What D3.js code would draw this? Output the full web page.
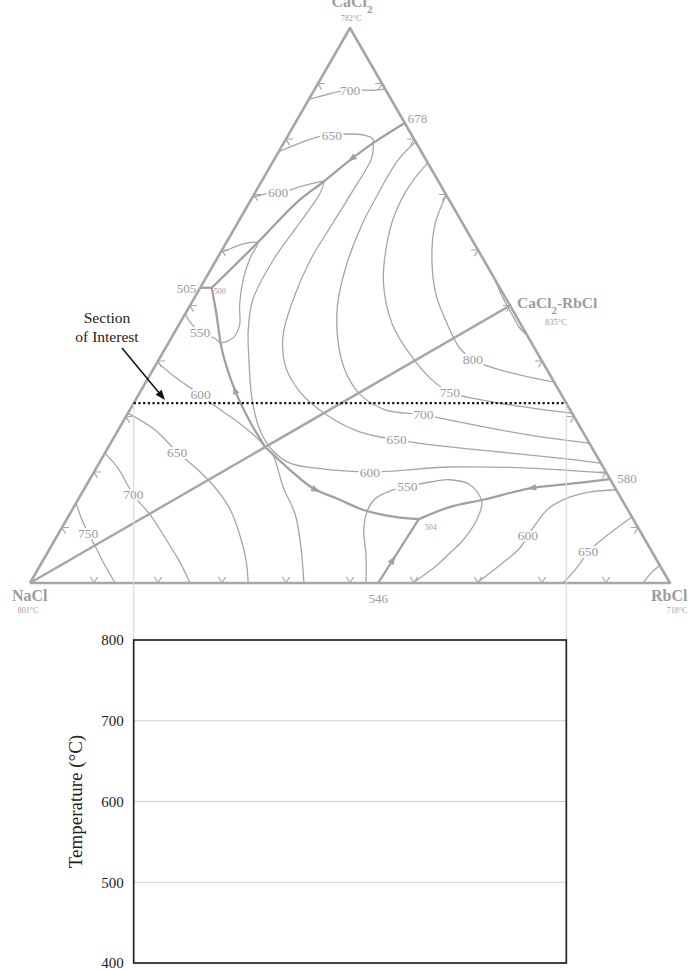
<!DOCTYPE html>
<html><head><meta charset="utf-8">
<script src="https://cdnjs.cloudflare.com/ajax/libs/d3/7.8.5/d3.min.js"></script>
<style>
html,body{margin:0;padding:0;background:#fff;}
svg{display:block;}
text{font-family:"Liberation Serif","Times New Roman",serif;}
</style></head><body>
<svg id="chart" width="688" height="970"></svg>
<script>
// All compositions are [mol% RbCl, mol% CaCl2]; NaCl makes up the rest.

// Pure components and the congruent compound
const vertexNames = ["NaCl", "RbCl", "CaCl2"];
const vertexTemps = ["801°C", "718°C", "782°C"];
const vertexComps = [[0, 0], [100, 0], [0, 100]];
const compoundComp = [50, 50];
const compoundTemp = "835°C";

// Invariant points (°C)
const invariantLabels = ["678", "505", "500", "504", "580", "546"];
const invariantComps = [[17.1, 82.9], [0, 53.2], [1.8, 53.2], [55.0, 11.5], [81.3, 18.7], [54.4, 0]];

// Join line NaCl – CaCl2·RbCl
const joinLine = [[0, 0], [50, 50]];

// Univariant (field boundary) curves, written in the direction of falling temperature
const b678to500 = [[17.1, 82.9], [14.0, 79.3], [11.9, 76.2], [9.7, 72.3], [7.4, 68.6], [4.9, 61.3], [1.8, 53.2]];
const b505to500 = [[0, 53.2], [1.8, 53.2]];
const bSaddleTo500 = [[24.5, 24.5], [19.9, 29.0], [14.6, 34.8], [9.0, 42.0], [5.0, 48.3], [1.8, 53.2]];
const bSaddleTo504 = [[24.5, 24.5], [30.4, 20.4], [35.6, 17.1], [40.9, 15.0], [45.4, 13.2], [51.1, 11.9], [55.0, 11.5]];
const b580to504 = [[81.3, 18.7], [75.0, 17.8], [69.8, 17.1], [63.3, 15.0], [58.8, 13.7], [55.0, 11.5]];
const b546to504 = [[54.4, 0], [55.0, 11.5]];
// position of the direction arrow along each boundary (fraction of its length)
const boundaryArrowAt = [0.25, null, 0.38, 0.38, 0.40, 0.36];

// Liquidus isotherms
const iso700CaCl2 = [[0, 87.2], [2.1, 87.9], [4.1, 88.6], [7.2, 88.8], [9.5, 88.8], [11.0, 89.0]];
const iso650 = [[0, 77.7], [2.6, 79.3], [4.8, 80.4], [6.8, 80.7], [9.5, 80.9], [11.9, 80.7], [13.6, 80.0], [14.0, 79.3],
  [15.1, 76.6], [15.1, 70.8], [14.9, 64.9], [14.7, 58.2], [15.6, 51.0], [17.2, 44.7], [20.2, 39.3], [25.0, 34.4],
  [31.9, 29.9], [38.0, 27.2], [44.4, 25.8], [51.8, 24.7], [61.6, 23.6], [71.5, 22.5], [78.4, 21.6]];
const iso600 = [[0, 69.5], [2.4, 70.3], [4.5, 70.6], [6.5, 71.4], [8.5, 72.1], [9.7, 72.3], [10.2, 70.3], [9.6, 64.1],
  [8.9, 58.2], [9.3, 51.0], [11.3, 45.6], [14.6, 39.3], [17.9, 33.5], [22.1, 27.6], [25.8, 24.0], [29.8, 21.6],
  [34.4, 20.7], [43.1, 20.0], [55.1, 20.9], [67.7, 20.7], [80.2, 19.8]];
const iso550Upper = [[0, 59.5], [1.4, 60.4], [2.8, 61.1], [4.9, 61.3], [5.1, 58.6], [6.0, 54.6], [7.7, 50.1], [9.5, 46.5],
  [9.7, 44.3], [8.2, 43.3], [6.8, 44.1], [4.0, 45.2], [1.5, 47.0], [0, 48.5]];
const iso550Lower = [[52.5, 0], [50.0, 5.0], [47.4, 9.5], [46.2, 13.0], [46.3, 15.1], [48.0, 16.6], [50.3, 17.3],
  [53.4, 18.2], [56.3, 18.6], [59.9, 17.7], [63.3, 14.6], [64.1, 11.4], [63.8, 7.7], [62.9, 5.4], [62.0, 3.2], [59.8, 0]];
const iso600NaCl = [[0, 39.8], [4.1, 37.1], [9.7, 33.9], [12.6, 32.1], [17.3, 29.4], [20.8, 27.2], [23.4, 25.4],
  [24.5, 24.5], [26.4, 23.1], [30.9, 17.3], [35.3, 12.3], [38.9, 6.8], [42.8, 0]];
const iso650NaCl = [[0, 30.6], [5.7, 27.6], [11.2, 23.6], [16.6, 20.0], [20.8, 16.8], [24.7, 13.2], [28.5, 8.6], [31.7, 4.1], [34.1, 0]];
const iso700NaCl = [[0, 23.4], [3.4, 20.7], [8.2, 15.9], [12.6, 12.3], [17.5, 7.7], [21.5, 3.8], [25.0, 0]];
const iso750NaCl = [[0, 14.4], [2.4, 11.4], [4.6, 9.0], [7.0, 6.5], [10.1, 3.2], [13.3, 0]];
const iso700 = [[20.5, 79.5], [19.4, 76.2], [19.3, 70.8], [19.6, 64.5], [20.8, 57.3], [23.0, 50.1], [26.2, 43.8],
  [30.0, 38.4], [34.7, 33.9], [39.9, 31.2], [46.3, 30.3], [52.7, 29.0], [59.6, 27.6], [68.2, 26.1], [74.8, 25.2]];
const iso750 = [[24.3, 75.7], [23.5, 71.7], [23.8, 66.3], [25.6, 60.0], [28.4, 53.7], [33.4, 46.5], [38.9, 41.1],
  [44.5, 36.6], [48.4, 34.4], [52.9, 33.2], [59.0, 32.1], [64.9, 31.2], [69.4, 30.6]];
const iso800 = [[30.1, 69.9], [31.0, 64.5], [33.7, 58.2], [37.5, 51.9], [42.0, 46.5], [46.0, 42.3], [49.1, 40.2],
  [54.2, 38.4], [59.5, 37.1], [63.8, 36.2]];
const isoNearCompound = [[40, 60], [44.5, 55.5], [48.1, 51.5], [51.2, 48.3], [53.6, 45.9], [55.3, 44.7]];
const iso600RbCl = [[83.2, 16.8], [79.3, 16.4], [76.0, 15.1], [74.2, 13.2], [73.7, 10.5], [73.5, 8.6], [73.4, 6.3], [71.8, 3.2], [69.8, 0]];
const iso650RbCl = [[88.1, 11.9], [85.9, 8.6], [84.4, 5.6], [84.1, 2.9], [83.3, 0]];
const iso700RbCl = [[96.8, 3.2], [96.1, 1.6], [95.8, 0]];

// Isotherm labels and where they sit on their curves
const isoLabelText = ["700", "650", "600", "550", "600", "650", "700", "750", "800", "750", "700", "650", "600", "550", "600", "650"];
const isoLabelComps = [[5.6, 88.8], [6.8, 80.7], [3.6, 70.3], [4.0, 45.2], [9.7, 33.9], [11.2, 23.6], [8.2, 15.9], [4.6, 9.0],
  [49.1, 40.2], [48.4, 34.4], [46.3, 30.3], [44.4, 25.8], [43.1, 20.0], [50.3, 17.3], [73.5, 8.6], [84.4, 5.6]];

// Edge grid ticks every 10 mol%
const gridSteps = [10, 20, 30, 40, 50, 60, 70, 80, 90];

// Isopleth section at constant CaCl2
const sectionCaCl2 = 32.4;

// Temperature axis of the section plot
const tempDomain = [400, 800];
const tempTicks = [400, 500, 600, 700, 800];

// ---------------------------------------------------------------
const svg = d3.select("#chart");
const X = d3.scaleLinear().domain([0, 100]).range([30, 670]);
const Y = d3.scaleLinear().domain([0, 100]).range([583, 28]);
const P = d => [X(d[0] + d[1] / 2), Y(d[1])];

const GREY = "#a6a6a6";
const LABEL = "#9c9c9c";

const smooth = d3.line().x(d => P(d)[0]).y(d => P(d)[1]).curve(d3.curveCatmullRom.alpha(0.5));
const straight = d3.line().x(d => P(d)[0]).y(d => P(d)[1]);

// isotherms
const isotherms = [iso700CaCl2, iso650, iso600, iso550Upper, iso550Lower, iso600NaCl, iso650NaCl, iso700NaCl,
  iso750NaCl, iso700, iso750, iso800, isoNearCompound, iso600RbCl, iso650RbCl, iso700RbCl];
svg.append("g").selectAll("path").data(isotherms).join("path")
  .attr("d", smooth).attr("fill", "none").attr("stroke", GREY).attr("stroke-width", 1.3);

// edge ticks (small chevrons along the grid directions)
const tg = svg.append("g").attr("stroke", GREY).attr("stroke-width", 1.1).attr("fill", "none");
const d = 1.1;
gridSteps.forEach(k => {
  const bottom = [[k - d, d], [k, 0], [k, d]];
  const left = [[d, k], [0, k], [d, k - d]];
  const right = [[k - d, 100 - k], [k, 100 - k], [k, 100 - k - d]];
  [bottom, left, right].forEach(t => tg.append("path").attr("d", straight(t)));
});

// field boundaries
const boundaries = [b678to500, b505to500, bSaddleTo500, bSaddleTo504, b580to504, b546to504];
const bg = svg.append("g");
boundaries.forEach((b, i) => {
  const path = bg.append("path").attr("d", b.length > 2 ? smooth(b) : straight(b))
    .attr("fill", "none").attr("stroke", "#a0a0a0").attr("stroke-width", 2.3).attr("stroke-linejoin", "round");
  const f = boundaryArrowAt[i];
  if (f != null) {
    const node = path.node(), L = node.getTotalLength();
    const p0 = node.getPointAtLength(L * f), p1 = node.getPointAtLength(L * f + 2);
    const ang = Math.atan2(p1.y - p0.y, p1.x - p0.x) * 180 / Math.PI;
    bg.append("path").attr("d", "M5,0L-4,-3.3L-4,3.3Z").attr("fill", "#a0a0a0")
      .attr("transform", `translate(${p0.x},${p0.y}) rotate(${ang})`);
  }
});

// triangle and join line
svg.append("path").attr("d", straight([...vertexComps, vertexComps[0]]))
  .attr("fill", "none").attr("stroke", GREY).attr("stroke-width", 2.6).attr("stroke-linejoin", "round");
svg.append("path").attr("d", straight(joinLine)).attr("fill", "none").attr("stroke", GREY).attr("stroke-width", 2.4);

// isotherm labels with a white halo that breaks the curve
svg.append("g").selectAll("text").data(isoLabelText).join("text")
  .attr("x", (t, i) => P(isoLabelComps[i])[0]).attr("y", (t, i) => P(isoLabelComps[i])[1] + 4.5)
  .attr("text-anchor", "middle").attr("font-size", 13.5).attr("fill", LABEL)
  .attr("stroke", "#fff").attr("stroke-width", 4).attr("paint-order", "stroke").text(t => t);

// invariant labels
const invStyle = [
  {dx: 3, dy: 0, anchor: "start", size: 13},
  {dx: -4, dy: 5, anchor: "end", size: 13},
  {dx: 2, dy: 6, anchor: "start", size: 8},
  {dx: 6, dy: 11, anchor: "start", size: 8},
  {dx: 7, dy: 4, anchor: "start", size: 13},
  {dx: 0, dy: 20, anchor: "middle", size: 13}
];
svg.append("g").selectAll("text").data(invariantLabels).join("text")
  .attr("x", (t, i) => P(invariantComps[i])[0] + invStyle[i].dx)
  .attr("y", (t, i) => P(invariantComps[i])[1] + invStyle[i].dy)
  .attr("text-anchor", (t, i) => invStyle[i].anchor).attr("font-size", (t, i) => invStyle[i].size)
  .attr("fill", LABEL).text(t => t);

// component labels
function chem(sel, name) {
  const m = name.match(/^([A-Za-z]*?)(2)?(-.*)?$/);
  sel.append("tspan").text(m[1]);
  if (m[2]) sel.append("tspan").attr("baseline-shift", "sub").attr("font-size", "70%").text("2");
  if (m[3]) sel.append("tspan").text(m[3]);
}
const vStyle = [
  {x: -18, y: 18, anchor: "start", tx: -2, ty: 30},
  {x: -19, y: 18, anchor: "start", tx: 7, ty: 30},
  {x: 2, y: -21, anchor: "middle", tx: 1, ty: -7}
];
vertexNames.forEach((n, i) => {
  const [px, py] = P(vertexComps[i]);
  const t = svg.append("text").attr("x", px + vStyle[i].x).attr("y", py + vStyle[i].y)
    .attr("text-anchor", vStyle[i].anchor).attr("font-size", 16).attr("font-weight", "bold").attr("fill", LABEL);
  chem(t, n);
  svg.append("text").attr("x", px + vStyle[i].tx).attr("y", py + vStyle[i].ty).attr("text-anchor", "middle")
    .attr("font-size", 8).attr("fill", LABEL).text(vertexTemps[i]);
});
{
  const [px, py] = P(compoundComp);
  const t = svg.append("text").attr("x", px + 7).attr("y", py + 2.5).attr("font-size", 15.5)
    .attr("font-weight", "bold").attr("fill", LABEL);
  chem(t, "CaCl2-RbCl");
  svg.append("text").attr("x", px + 46).attr("y", py + 19).attr("text-anchor", "middle")
    .attr("font-size", 8.5).attr("fill", LABEL).text(compoundTemp);
}

// section of interest
const secL = [0, sectionCaCl2], secR = [100 - sectionCaCl2, sectionCaCl2];
const [sx0, sy] = P(secL), [sx1] = P(secR);

// lower plot: temperature along the section
const T = d3.scaleLinear().domain(tempDomain).range([963, 640]);
const S = d3.scaleLinear().domain([0, 100 - sectionCaCl2]).range([sx0, sx1]);

// guide lines from the section ends down to the plot
svg.append("g").selectAll("line").data([0, 100 - sectionCaCl2]).join("line")
  .attr("x1", v => S(v)).attr("x2", v => S(v)).attr("y1", sy).attr("y2", T(tempDomain[1]))
  .attr("stroke", "#dcdcdc").attr("stroke-width", 1.2);

svg.append("line").attr("x1", sx0).attr("x2", sx1).attr("y1", sy).attr("y2", sy)
  .attr("stroke", "#111").attr("stroke-width", 2.3).attr("stroke-dasharray", "2.2 2.5");

svg.append("text").attr("x", 107).attr("y", 323).attr("text-anchor", "middle").attr("font-size", 15.5)
  .attr("fill", "#222").text("Section");
svg.append("text").attr("x", 107).attr("y", 342).attr("text-anchor", "middle").attr("font-size", 15.5)
  .attr("fill", "#222").text("of Interest");
svg.append("line").attr("x1", 122).attr("y1", 348).attr("x2", 160).attr("y2", 394)
  .attr("stroke", "#111").attr("stroke-width", 1.5);
{
  const ang = Math.atan2(400 - 348, 165 - 122) * 180 / Math.PI;
  svg.append("path").attr("d", "M0,0L-10,-3.8L-10,3.8Z").attr("fill", "#111")
    .attr("transform", `translate(165,400) rotate(${ang})`);
}

// plot frame, grid and axis
const pg = svg.append("g");
pg.selectAll("line.grid").data(tempTicks.filter(t => t > tempDomain[0] && t < tempDomain[1])).join("line")
  .attr("class", "grid").attr("x1", S(0)).attr("x2", S(100 - sectionCaCl2))
  .attr("y1", t => T(t)).attr("y2", t => T(t)).attr("stroke", "#cfcfcf").attr("stroke-width", 1.2);
pg.append("rect").attr("x", S(0)).attr("y", T(tempDomain[1]))
  .attr("width", S(100 - sectionCaCl2) - S(0)).attr("height", T(tempDomain[0]) - T(tempDomain[1]))
  .attr("fill", "none").attr("stroke", "#222").attr("stroke-width", 1.7);
const axis = d3.axisLeft(T).tickValues(tempTicks).tickSize(0).tickPadding(10).tickFormat(d3.format("d"));
const ag = pg.append("g").attr("transform", `translate(${S(0)},0)`).call(axis);
ag.select(".domain").remove();
ag.selectAll("text").attr("font-family", '"Liberation Serif","Times New Roman",serif')
  .attr("font-size", 15).attr("fill", "#222");
pg.append("text").attr("transform", `translate(82,${(T(tempDomain[0]) + T(tempDomain[1])) / 2}) rotate(-90)`)
  .attr("text-anchor", "middle").attr("font-size", 19).attr("fill", "#222").text("Temperature (°C)");
</script>
</body></html>
